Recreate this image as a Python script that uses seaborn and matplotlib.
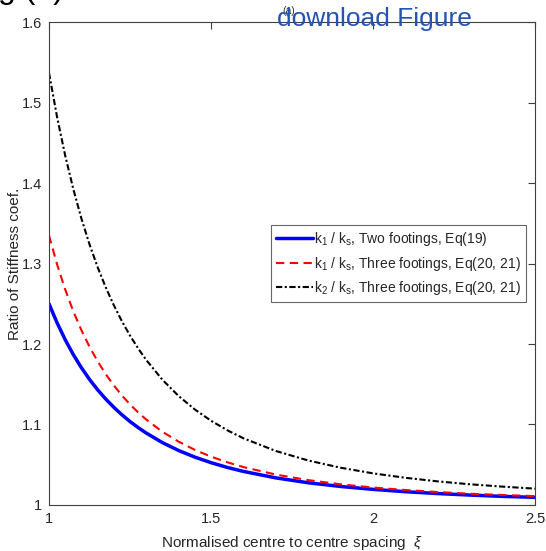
import pandas as pd
import matplotlib
matplotlib.use('Agg')
import matplotlib.pyplot as plt
import seaborn as sns

# Values
xi = [1.0, 1.025, 1.05, 1.075, 1.10, 1.125, 1.15, 1.175, 1.20, 1.225, 1.25, 1.275, 1.30,
      1.35, 1.40, 1.45, 1.50, 1.55, 1.60, 1.70, 1.80, 1.90, 2.00, 2.10, 2.20, 2.30, 2.40, 2.50]
k1_two = [1.2500, 1.2263, 1.2054, 1.1869, 1.1706, 1.1561, 1.1432, 1.1317, 1.1214, 1.1121,
          1.1037, 1.0962, 1.0894, 1.0775, 1.0677, 1.0595, 1.0526, 1.0467, 1.0417, 1.0337,
          1.0276, 1.0230, 1.0194, 1.0165, 1.0142, 1.0123, 1.0107, 1.0095]
k1_three = [1.3350, 1.2989, 1.2678, 1.2407, 1.2172, 1.1966, 1.1786, 1.1626, 1.1486, 1.1361,
            1.1250, 1.1151, 1.1062, 1.0910, 1.0787, 1.0685, 1.0601, 1.0531, 1.0471, 1.0378,
            1.0309, 1.0257, 1.0217, 1.0186, 1.0161, 1.0140, 1.0124, 1.0110]
k2_three = [1.5370, 1.4820, 1.4342, 1.3926, 1.3560, 1.3239, 1.2956, 1.2705, 1.2482, 1.2283,
            1.2105, 1.1946, 1.1802, 1.1556, 1.1354, 1.1187, 1.1047, 1.0929, 1.0829, 1.0671,
            1.0553, 1.0463, 1.0393, 1.0338, 1.0293, 1.0257, 1.0228, 1.0203]

labels = [r'k$_1$ / k$_\mathrm{s}$, Two footings, Eq(19)',
          r'k$_1$ / k$_\mathrm{s}$, Three footings, Eq(20, 21)',
          r'k$_2$ / k$_\mathrm{s}$, Three footings, Eq(20, 21)']

sns.set_style('white')
plt.rcParams['font.family'] = ['Liberation Sans', 'DejaVu Sans']
plt.rcParams['mathtext.fontset'] = 'custom'
plt.rcParams['mathtext.rm'] = 'Liberation Sans'
plt.rcParams['mathtext.it'] = 'Liberation Sans:italic'

df = pd.DataFrame({'xi': xi, 'a': k1_two, 'b': k1_three, 'c': k2_three})

fig = plt.figure(figsize=(5.46, 5.51), dpi=100)
ax = fig.add_axes([0.0897, 0.0835, 0.8903, 0.8765])

sns.lineplot(data=df, x='xi', y='a', ax=ax, color='#0000ff', lw=2.5, label=labels[0])
sns.lineplot(data=df, x='xi', y='b', ax=ax, color='#ff0000', lw=1.5, label=labels[1],
             dashes=False, linestyle=(0, (4, 2.6)))
sns.lineplot(data=df, x='xi', y='c', ax=ax, color='black', lw=1.5, label=labels[2],
             dashes=False, linestyle=(0, (3, 1.2, 1, 1.2)))

ax.set_xlim(1, 2.5)
ax.set_ylim(1, 1.6)
ax.set_xticks([1, 1.5, 2, 2.5])
ax.set_xticklabels(['1', '1.5', '2', '2.5'])
ax.set_yticks([1, 1.1, 1.2, 1.3, 1.4, 1.5, 1.6])
ax.set_yticklabels(['1', '1.1', '1.2', '1.3', '1.4', '1.5', '1.6'])
ax.tick_params(direction='in', length=5, width=0.8, color='#404040', pad=5,
               labelsize=10.5, labelcolor='#262626', top=True, right=True)
for s in ax.spines.values():
    s.set_color('#404040')
    s.set_linewidth(0.8)

ax.set_xlabel(r'Normalised centre to centre spacing  $\xi$', fontsize=11, color='#262626', labelpad=6)
ax.set_ylabel('Ratio of Stiffness coef.', fontsize=11, color='#262626', labelpad=0)

leg = ax.legend(loc='center right', bbox_to_anchor=(0.982, 0.5), fontsize=10,
                frameon=True, fancybox=False, handlelength=2.6, handletextpad=0.1,
                borderpad=0.4, labelspacing=0.45, borderaxespad=0)
leg.get_frame().set_edgecolor('#404040')
leg.get_frame().set_linewidth(0.8)

# cropped page text around the figure
fig.text(-0.004, 1.004, 'g (b)', fontsize=23, color='black', va='baseline')
fig.text(0.518, 0.975, '(a)', fontsize=7.5, color='#333333', va='baseline')
fig.text(0.507, 0.953, 'download Figure', fontsize=19, color='#2453b3', va='baseline')

fig.savefig('out.png', dpi=100)
